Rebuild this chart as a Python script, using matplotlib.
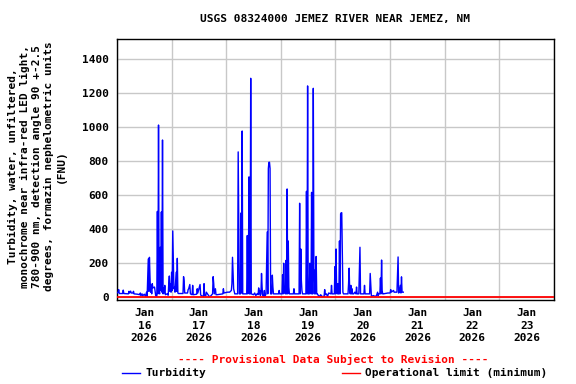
import matplotlib.pyplot as plt
from matplotlib.lines import Line2D

# turbidity samples: (hours since Jan 16 2026 00:00, value in FNU)
samples = [
    (0.0, 25), (0.5, 30), (0.75, 45), (1.0, 22), (2.5, 22), (2.75, 42), (3.0, 22),
    (5.0, 20), (5.25, 35), (5.5, 25), (6.0, 36), (6.25, 25), (7.0, 25), (7.25, 35),
    (7.5, 20), (9.0, 18), (10.0, 15), (10.25, 25), (10.5, 10), (11.0, 20), (11.25, 8),
    (12.0, 18), (12.5, 5), (13.0, 30), (13.25, 5), (13.75, 225), (14.0, 35), (14.25, 235),
    (14.5, 120), (14.75, 30), (15.0, 70), (15.25, 20), (15.5, 80), (15.75, 55), (16.5, 60),
    (17.0, 10), (17.5, 5), (17.75, 505), (18.0, 20), (18.25, 1013), (18.5, 30), (18.75, 20),
    (19.0, 294), (19.25, 40), (19.5, 502), (19.75, 30), (20.0, 925), (20.25, 20), (20.5, 55),
    (20.75, 25), (21.0, 70), (21.25, 15), (22.0, 20), (22.5, 12), (22.75, 80), (23.0, 125),
    (23.25, 35), (23.5, 80), (23.75, 30), (24.0, 147), (24.25, 40), (24.5, 390), (24.75, 206),
    (25.0, 50), (25.25, 60), (25.5, 30), (26.0, 147), (26.25, 35), (26.5, 229), (26.75, 25),
    (27.0, 22), (29.0, 22), (29.25, 121), (29.5, 95), (29.75, 25), (31.0, 25), (31.25, 45),
    (31.5, 50), (32.0, 75), (32.25, 20), (33.0, 15), (33.25, 70), (33.5, 15), (35.0, 18),
    (35.25, 50), (35.5, 25), (36.5, 75), (36.75, 15), (37.0, 10), (38.0, 5), (38.25, 80),
    (38.5, 10), (39.0, 8), (39.25, 30), (40.5, 5), (41.0, 5), (42.0, 20), (42.25, 121),
    (42.5, 80), (42.75, 20), (43.25, 50), (43.5, 15), (44.0, 15), (46.5, 20), (46.75, 50),
    (47.0, 25), (48.5, 30), (49.5, 30), (50.25, 40), (50.5, 80), (50.75, 235), (51.0, 140),
    (51.25, 50), (51.75, 20), (52.0, 20), (53.0, 20), (53.25, 855), (53.5, 439), (53.75, 20),
    (54.0, 20), (54.25, 20), (54.5, 496), (54.75, 25), (55.0, 978), (55.25, 20), (55.5, 20),
    (57.0, 20), (57.25, 363), (57.5, 20), (57.75, 190), (58.0, 708), (58.25, 20), (58.5, 20),
    (58.75, 1288), (59.0, 20), (60.0, 15), (60.5, 25), (61.0, 10), (61.5, 20), (62.0, 15),
    (62.25, 55), (62.5, 20), (62.75, 40), (63.0, 10), (63.25, 20), (63.5, 140), (63.75, 60),
    (64.0, 10), (64.5, 5), (64.75, 40), (65.0, 5), (65.5, 20), (65.75, 200), (66.0, 384),
    (66.25, 20), (66.5, 757), (66.75, 794), (67.0, 794), (67.25, 757), (67.5, 20), (67.75, 20),
    (68.0, 20), (68.25, 130), (68.5, 60), (68.75, 20), (69.0, 20), (70.0, 20), (71.0, 20),
    (71.25, 40), (71.5, 20), (72.5, 20), (72.75, 132), (73.0, 20), (73.25, 200), (73.5, 30),
    (74.0, 20), (74.25, 217), (74.5, 20), (74.75, 637), (75.0, 20), (75.25, 331), (75.5, 60),
    (75.75, 20), (76.0, 20), (77.5, 20), (77.75, 50), (78.0, 20), (80.0, 20), (80.25, 553),
    (80.5, 20), (80.75, 284), (81.0, 100), (81.25, 40), (81.5, 20), (81.75, 20), (82.0, 20),
    (83.0, 20), (83.25, 623), (83.5, 20), (83.75, 1243), (84.0, 20), (84.5, 20), (84.75, 200),
    (85.0, 120), (85.25, 20), (85.5, 617), (85.75, 20), (86.0, 20), (86.25, 1229), (86.5, 183),
    (86.75, 20), (87.0, 160), (87.25, 20), (87.5, 240), (87.75, 20), (88.0, 20), (88.5, 10),
    (89.0, 5), (89.5, 15), (90.0, 5), (91.0, 5), (91.25, 45), (91.5, 15), (92.0, 20),
    (92.5, 5), (93.0, 25), (94.0, 20), (94.25, 70), (94.5, 20), (95.5, 20), (95.75, 180),
    (96.0, 20), (96.25, 284), (96.5, 40), (96.75, 20), (97.0, 80), (97.25, 20), (97.5, 20),
    (97.75, 331), (98.0, 20), (98.25, 491), (98.5, 497), (98.75, 497), (99.0, 260), (99.25, 30),
    (99.5, 20), (100.0, 20), (101.5, 20), (101.75, 80), (102.0, 171), (102.25, 30), (102.5, 20),
    (102.75, 70), (103.0, 20), (103.25, 50), (103.5, 20), (104.0, 20), (104.5, 30), (105.0, 20),
    (105.25, 60), (105.5, 20), (106.25, 20), (106.5, 165), (106.75, 294), (107.0, 20),
    (107.25, 20), (108.5, 20), (108.75, 70), (109.0, 20), (109.25, 20), (110.5, 20),
    (111.0, 20), (111.25, 140), (111.5, 70), (111.75, 10), (112.0, 5), (112.5, 10),
    (113.5, 5), (114.0, 10), (114.5, 30), (114.75, 10), (115.0, 20), (115.5, 20),
    (115.75, 113), (116.0, 20), (116.25, 219), (116.5, 40), (116.75, 20), (117.0, 20),
    (119.0, 25), (120.0, 25), (120.25, 45), (120.5, 30), (121.0, 35), (121.5, 40),
    (121.75, 30), (122.0, 30), (123.0, 30), (123.25, 130), (123.5, 237), (123.75, 25),
    (124.0, 30), (124.5, 70), (124.75, 25), (125.0, 120), (125.25, 30), (125.5, 30),
    (125.8, 30),
]
hours = [h for h, v in samples]
turbidity = [v for h, v in samples]

op_limit_min = 0

day_labels = ['Jan\n16\n2026', 'Jan\n17\n2026', 'Jan\n18\n2026', 'Jan\n19\n2026',
              'Jan\n20\n2026', 'Jan\n21\n2026', 'Jan\n22\n2026', 'Jan\n23\n2026']
y_ticks = [0, 200, 400, 600, 800, 1000, 1200, 1400]

mono = 'DejaVu Sans Mono'

fig = plt.figure(figsize=(5.76, 3.84), dpi=100)
ax = fig.add_axes([0.2031, 0.2188, 0.7587, 0.6796])

ax.plot(hours, turbidity, color='#0000ff', lw=1.0, zorder=3)
ax.axhline(op_limit_min, color='#ff0000', lw=1.3, zorder=4)

ax.set_xlim(0, 24 * len(day_labels))
ax.set_ylim(-16, 1519)

ax.set_xticks([24 * i for i in range(len(day_labels) + 1)])
ax.set_xticklabels([])
ax.set_xticks([24 * i + 12 for i in range(len(day_labels))], minor=True)
ax.set_xticklabels(day_labels, minor=True, fontfamily=mono, fontweight='bold', fontsize=8,
                   linespacing=1.3)
ax.set_yticks(y_ticks)
ax.set_yticklabels([str(v) for v in y_ticks], fontfamily=mono, fontweight='bold', fontsize=8)
ax.tick_params(axis='x', which='both', length=0, pad=6)
ax.tick_params(axis='y', length=0, pad=6)

ax.grid(True, color='#c8c8c8', lw=1.0, zorder=1)
for s in ax.spines.values():
    s.set_linewidth(1.0)

fig.text(0.582, 0.95, 'USGS 08324000 JEMEZ RIVER NEAR JEMEZ, NM', ha='center', va='center',
         fontfamily=mono, fontweight='bold', fontsize=8)

fig.text(0.064, 0.567,
         'Turbidity, water, unfiltered,\nmonochrome near infra-red LED light,\n'
         '780-900 nm, detection angle 90 +-2.5\ndegrees, formazin nephelometric units\n(FNU)',
         rotation=90, ha='center', va='center', multialignment='center', linespacing=1.25,
         fontfamily=mono, fontweight='bold', fontsize=8)

fig.text(0.578, 0.065, '---- Provisional Data Subject to Revision ----', ha='center', va='center',
         color='#ff0000', fontfamily=mono, fontweight='bold', fontsize=8)

fig.add_artist(Line2D([122 / 576, 140 / 576], [1 - 373 / 384] * 2, color='#0000ff', lw=1.0))
fig.text(145 / 576, 1 - 373 / 384, 'Turbidity', ha='left', va='center',
         fontfamily=mono, fontweight='bold', fontsize=8)
fig.add_artist(Line2D([342 / 576, 360 / 576], [1 - 373 / 384] * 2, color='#ff0000', lw=1.0))
fig.text(365 / 576, 1 - 373 / 384, 'Operational limit (minimum)', ha='left', va='center',
         fontfamily=mono, fontweight='bold', fontsize=8)

fig.savefig('out.png', dpi=100)
